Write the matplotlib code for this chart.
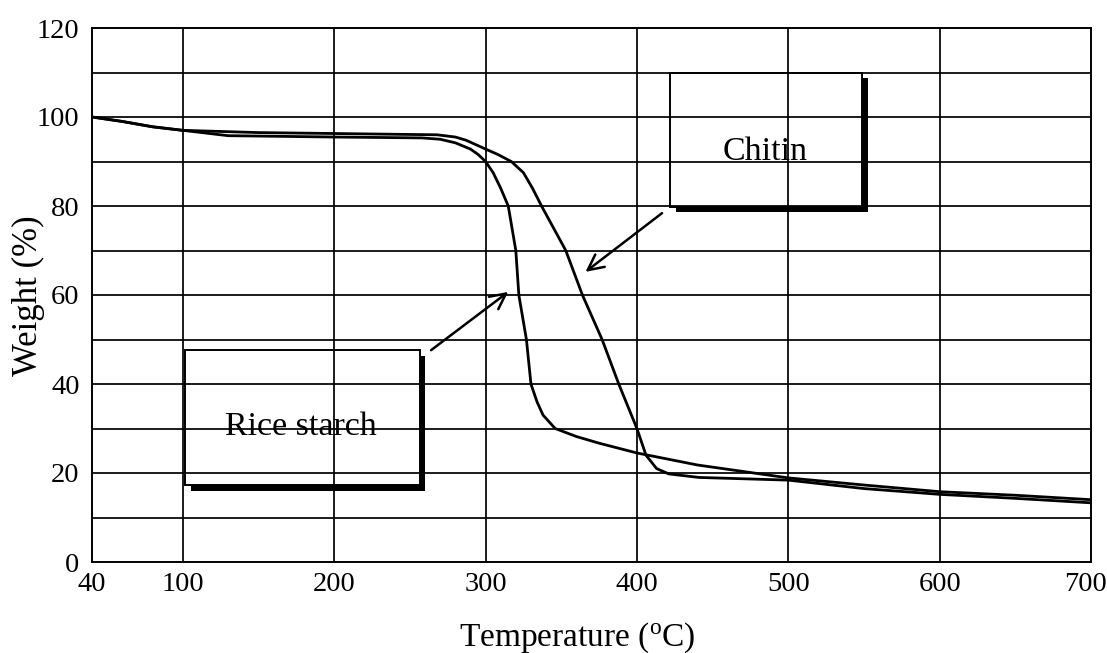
import matplotlib
matplotlib.use("Agg")
import matplotlib.pyplot as plt
from matplotlib.patches import Rectangle, Polygon
from matplotlib.transforms import IdentityTransform, ScaledTranslation

# Thermogravimetric curves: temperature (°C) vs. remaining weight (%)
rice_temp = [40, 60, 80, 100, 130, 200, 258, 270, 280, 290, 295, 300, 305, 310, 315,
             320, 322, 327, 330, 334, 338, 346, 360, 375, 400, 440, 500, 550, 600,
             650, 700]
rice_weight = [100, 99, 97.8, 97, 95.8, 95.5, 95.3, 95, 94.2, 92.8, 91.6, 90, 87.5,
               84, 80, 70, 60, 50, 40, 36, 33, 30, 28.2, 26.7, 24.5, 21.8, 18.9,
               17.3, 15.8, 15, 14]

chitin_temp = [40, 60, 80, 100, 150, 268, 280, 287, 300, 308, 317, 325, 331, 337,
               345, 353, 364, 377, 388, 400, 406, 413, 421, 441, 500, 550, 600, 650,
               700]
chitin_weight = [100, 99, 97.8, 97, 96.5, 96, 95.5, 94.8, 92.8, 91.6, 90, 87.5, 84,
                 80, 75, 70, 60, 50, 40, 30, 24, 21, 19.8, 19, 18.4, 16.5, 15.2,
                 14.3, 13.3]

x_ticks = [40, 100, 200, 300, 400, 500, 600, 700]
x_grid = [100, 200, 300, 400, 500, 600]
y_ticks = [0, 20, 40, 60, 80, 100, 120]
y_grid = [10, 20, 30, 40, 50, 60, 70, 80, 90, 100, 110]

labels = ["Rice starch", "Chitin"]

plt.rcParams["font.family"] = ["Liberation Serif", "DejaVu Serif"]
plt.rcParams["mathtext.fontset"] = "custom"
plt.rcParams["mathtext.rm"] = "Liberation Serif"
plt.rcParams["mathtext.it"] = "Liberation Serif:italic"

W, H = 1107, 653
fig = plt.figure(figsize=(W / 100, H / 100), dpi=100)
ax = fig.add_axes([92 / W, 1 - 562 / H, 999 / W, 534 / H])

ax.set_xlim(40, 700)
ax.set_ylim(0, 120)

for gx in x_grid:
    ax.axvline(gx, color="black", lw=1.25, zorder=1)
for gy in y_grid:
    ax.axhline(gy, color="black", lw=1.25, zorder=1)

ax.plot(rice_temp, rice_weight, color="black", lw=2.0, zorder=3)
ax.plot(chitin_temp, chitin_weight, color="black", lw=2.0, zorder=3)

for sp in ax.spines.values():
    sp.set_linewidth(1.4)
    sp.set_color("black")

ax.set_xticks(x_ticks)
ax.set_yticks(y_ticks)
ax.tick_params(length=0, labelsize=20.5)
ax.tick_params(axis="x", pad=7)
ax.tick_params(axis="y", pad=9)

# nudge the last x tick label inward so it stays on the canvas
last = ax.get_xticklabels()[-1]
last.set_transform(last.get_transform() + ScaledTranslation(-5 / 100, 0, fig.dpi_scale_trans))

fig.text(577 / W, 1 - 646 / H, r"Temperature ($^{\mathrm{o}}$C)", fontsize=24,
         ha="center", va="baseline")
fig.text(28 / W, 1 - 296 / H, "Weight (%)", fontsize=25, rotation=90,
         ha="center", va="center")


def shadow_box(x0, y0, x1, y1, text, tx, ty):
    box = Rectangle((x0, y0), x1 - x0, y1 - y0, fill=False,
                    edgecolor="black", lw=1.4, zorder=4)
    ax.add_patch(box)
    (dx0, dy0), (dx1, dy1) = ax.transData.transform([(x0, y0), (x1, y1)])
    o = 5.5
    verts = [(dx1, dy1 - o), (dx1 + o, dy1 - o), (dx1 + o, dy0 - o),
             (dx0 + o, dy0 - o), (dx0 + o, dy0), (dx1, dy0)]
    ax.add_patch(Polygon(verts, closed=True, facecolor="black",
                         edgecolor="none", transform=IdentityTransform(),
                         zorder=4))
    ax.text(tx, ty, text, fontsize=24.5, ha="center", va="center", zorder=5)


shadow_box(101.5, 17.3, 256.5, 47.6, labels[0], 178, 30.5)
shadow_box(422, 79.8, 549, 109.9, labels[1], 485, 92.3)

arrow_style = dict(arrowstyle="->", color="black", lw=1.8,
                   mutation_scale=28, shrinkA=0, shrinkB=0)
ax.annotate("", xy=(315, 60.7), xytext=(264, 47.6), arrowprops=arrow_style, zorder=5)
ax.annotate("", xy=(366, 65.2), xytext=(416.6, 78.4), arrowprops=arrow_style, zorder=5)

fig.savefig("out.png", dpi=100)
